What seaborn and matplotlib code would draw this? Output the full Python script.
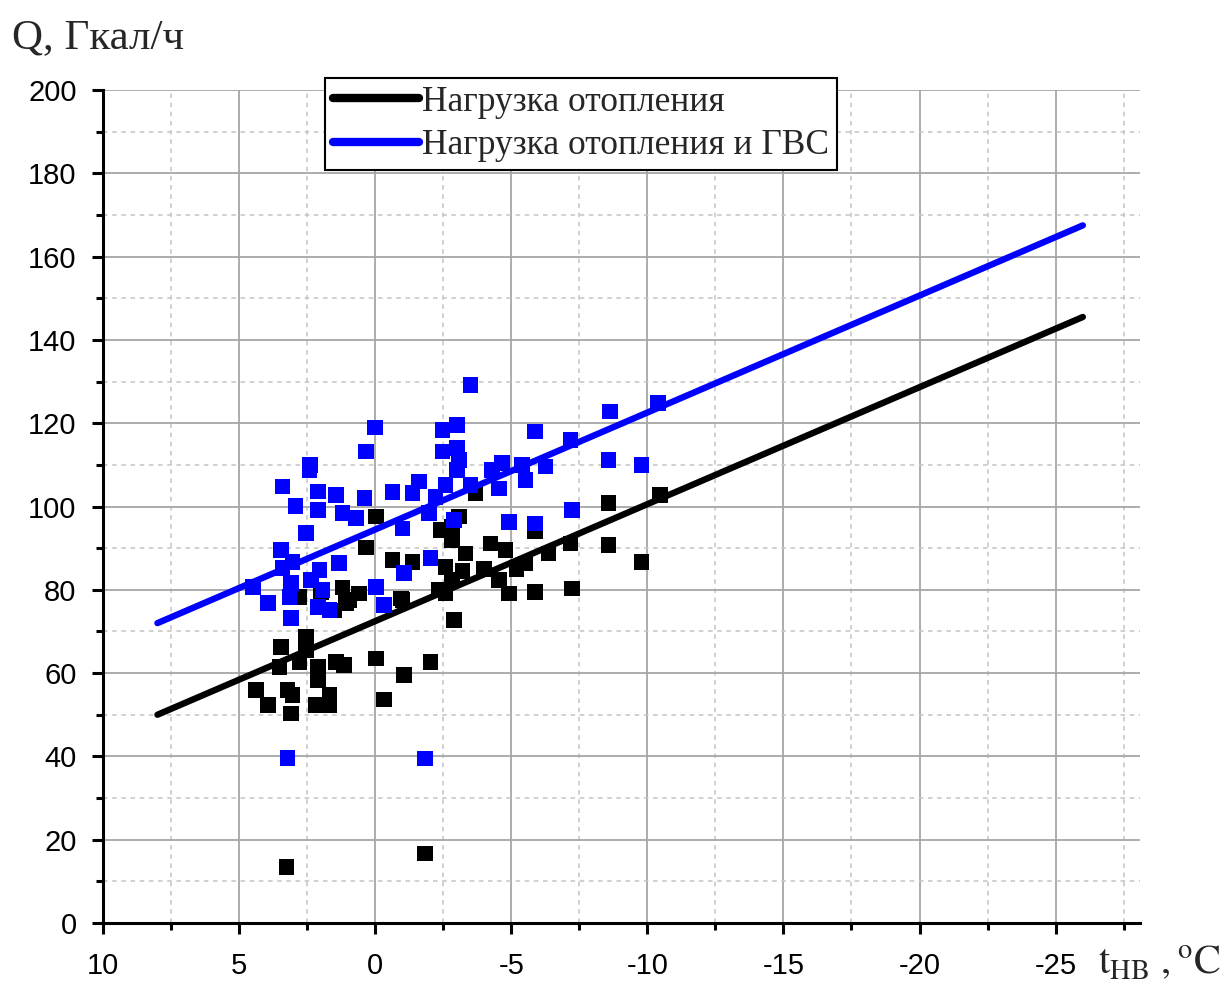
import matplotlib
matplotlib.use("Agg")
import matplotlib.pyplot as plt
from matplotlib.ticker import MultipleLocator
import pandas as pd
import seaborn as sns

# Outdoor air temperature (°C) and heating load (Gcal/h)
heat_t = [2.54, 3.46, 2.54, 3.52, 2.78, 2.11, 1.44, 1.14, 2.11, 4.37,
          3.22, 3.03, 3.94, 3.09, 2.18, 1.68, 1.68, -0.03, -0.33, -1.06,
          3.25, -2.04, -2.89, -1.83, 0.59, 1.08, -0.94, 2.78, -0.03, 0.34,
          -0.63, -1.37, -1.00, -2.40, -3.08, -2.83, -3.32, -2.59, -2.83, -2.59,
          -2.34, -4.23, -4.78, -4.54, -4.91, -5.52, -5.88, -6.37, -7.17, -7.23,
          -8.57, -8.57, -9.79, -10.46, -5.88, -2.83, -3.68, 0.95, 2.00, 1.50,
          -3.20, -4.00, -5.20, 1.20]
heat_q = [68.7, 66.3, 65.5, 61.5, 62.7, 61.5, 62.7, 61.9, 58.3, 55.9,
          55.9, 54.7, 52.3, 50.3, 52.3, 54.7, 52.3, 63.5, 53.7, 59.5,
          13.5, 62.7, 72.7, 16.7, 79.1, 76.8, 77.9, 78.3, 97.6, 90.2,
          87.2, 86.7, 77.5, 94.4, 97.6, 92.0, 88.7, 85.5, 82.4, 79.1,
          79.9, 91.1, 89.6, 82.4, 79.1, 86.3, 79.5, 88.7, 91.1, 80.3,
          100.8, 90.8, 86.7, 102.8, 94.0, 95.1, 103.2, 77.5, 79.5, 75.0,
          84.5, 85.0, 85.0, 80.5]

# Outdoor air temperature (°C) and heating + hot water load (Gcal/h)
total_t = [0.00, 0.34, 2.39, 2.42, 3.40, 2.11, 1.44, 0.40, -0.63, 2.93,
           2.11, 1.20, 0.71, 2.54, 3.46, 3.03, 1.32, 3.40, 2.05, 2.36,
           3.09, -0.03, 1.93, 4.49, 3.94, 3.15, 2.11, 1.68, -0.33, 3.09,
           -1.00, -3.50, -2.47, -3.01, -5.88, -2.47, -3.01, -1.61, -1.37, -3.08,
           -3.00, -4.29, -4.66, -5.39, -6.25, -5.52, -4.54, -2.59, -3.50, -2.22,
           -1.98, -2.89, -4.91, -5.88, -2.04, -1.06, -8.63, -7.17, -10.40, -8.57,
           -9.79, -7.23, 3.22, -1.83]
total_q = [119.0, 113.2, 110.0, 108.8, 104.8, 103.6, 102.8, 102.0, 103.5, 100.1,
           99.2, 98.4, 97.2, 93.7, 89.6, 86.7, 86.4, 85.2, 84.8, 82.4,
           81.6, 80.7, 80.0, 80.7, 76.8, 78.3, 75.9, 75.1, 76.3, 73.2,
           94.7, 129.2, 118.4, 119.6, 118.0, 113.2, 114.0, 106.0, 103.2, 111.2,
           108.8, 108.8, 110.4, 110.0, 109.6, 106.4, 104.3, 105.2, 105.2, 102.3,
           98.4, 96.8, 96.3, 95.9, 87.6, 84.0, 122.8, 116.0, 124.8, 111.2,
           110.0, 99.2, 39.6, 39.5]

# Linear trend lines
fit_t = [8.0, -26.0]
heat_fit_q = [50.0, 145.5]
total_fit_q = [72.0, 167.5]

heat_label = "Нагрузка отопления"
total_label = "Нагрузка отопления и ГВС"

BLUE = "#0000ff"
BLACK = "#000000"
SERIF = ["Liberation Serif", "DejaVu Serif"]

sns.set_style("ticks")
plt.rcParams["font.family"] = ["Liberation Sans", "DejaVu Sans"]
plt.rcParams["mathtext.fontset"] = "stix"

fig = plt.figure(figsize=(12.29, 9.84), dpi=100)
ax = fig.add_axes([103 / 1229, 61 / 984, 1037 / 1229, 833 / 984])

heat_pts = pd.DataFrame({"t": heat_t, "q": heat_q})
total_pts = pd.DataFrame({"t": total_t, "q": total_q})
heat_line = pd.DataFrame({"t": fit_t, "q": heat_fit_q})
total_line = pd.DataFrame({"t": fit_t, "q": total_fit_q})

sns.scatterplot(data=heat_pts, x="t", y="q", ax=ax, marker="s", s=125,
                color=BLACK, edgecolor="none", linewidth=0, zorder=3, legend=False)
sns.lineplot(data=heat_line, x="t", y="q", ax=ax, color=BLACK, lw=4.6,
             solid_capstyle="round", zorder=4, label=heat_label, sort=False)
sns.scatterplot(data=total_pts, x="t", y="q", ax=ax, marker="s", s=125,
                color=BLUE, edgecolor="none", linewidth=0, zorder=5, legend=False)
sns.lineplot(data=total_line, x="t", y="q", ax=ax, color=BLUE, lw=4.6,
             solid_capstyle="round", zorder=6, label=total_label, sort=False)

ax.set_xlim(10, -28.1)
ax.set_ylim(0, 200)
ax.xaxis.set_major_locator(MultipleLocator(5))
ax.xaxis.set_minor_locator(MultipleLocator(2.5))
ax.yaxis.set_major_locator(MultipleLocator(20))
ax.yaxis.set_minor_locator(MultipleLocator(10))

ax.grid(which="major", color="#a6a6a6", lw=1.3, ls="-", zorder=0)
ax.grid(which="minor", color="#c4c4c4", lw=1.1, ls=(0, (3, 3)), zorder=0)
ax.set_axisbelow(True)

for side in ("top", "right"):
    ax.spines[side].set_visible(False)
for side in ("left", "bottom"):
    ax.spines[side].set_linewidth(2.2)
    ax.spines[side].set_color(BLACK)

ax.tick_params(which="major", direction="out", length=8, width=2.2,
               labelsize=21, colors=BLACK)
ax.tick_params(which="minor", direction="out", length=5, width=2.2, colors=BLACK)
ax.tick_params(axis="x", which="major", pad=13)
ax.tick_params(axis="y", which="major", pad=11)
ax.set_xticks([10, 5, 0, -5, -10, -15, -20, -25])
ax.set_xticklabels(["10", "5", "0", "-5", "-10", "-15", "-20", "-25"])

ax.set_xlabel("")
ax.set_ylabel("")

fig.text(12 / 1229, 1 - 38 / 984, "Q, Гкал/ч", fontsize=31,
         family=SERIF, va="center", ha="left")
fig.text(1098 / 1229, 1 - 962 / 984, r"$\mathrm{t_{HB}\ ,^{o}C}$", fontsize=29,
         va="center", ha="left")

leg = ax.legend(loc="upper left", bbox_to_anchor=(0.214, 1.0144),
                frameon=True, fancybox=False, framealpha=1, edgecolor=BLACK,
                handlelength=2.45, handletextpad=0.08, borderpad=0.22,
                labelspacing=0.3, borderaxespad=0,
                prop={"family": SERIF, "size": 25.5})
leg.get_frame().set_linewidth(1.5)
for handle in leg.get_lines():
    handle.set_linewidth(6)
    handle.set_solid_capstyle("round")

fig.savefig("out.png", dpi=100)
